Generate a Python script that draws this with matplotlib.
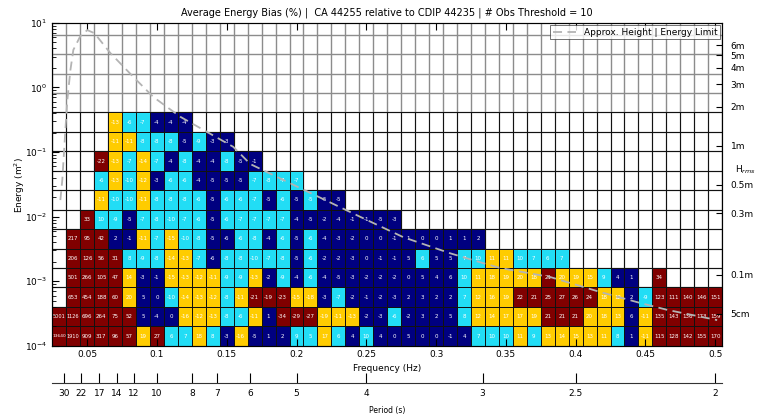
import numpy as np
import matplotlib
matplotlib.use("Agg")
import matplotlib.pyplot as plt
from matplotlib.colors import ListedColormap
from matplotlib.ticker import NullLocator, FixedLocator

plt.rcParams['font.family'] = ['Liberation Sans Narrow', 'DejaVu Sans']

# bins: frequency centres 0.03..0.50 Hz (0.01 wide), energy rows 1e-4 * 2^k
freq_edges = 0.025 + 0.01 * np.arange(49)
energy_edges = 1e-4 * 2.0 ** np.arange(13)

# each row (bottom -> top): first column, bias values (%), colour class
# class: N = |bias| small, C = moderate, Y = large, R = very large, . = empty
row_start = [0, 0, 1, 1, 1, 1, 2, 3, 3, 3, 4, 4]
row_vals = [
    [13640, 1910, 909, 317, 96, 57, 19, 27, 6, 7, 18, 8, -3, -16, -5, 1, 2, 9, 5, 17, 6, 4, 10, 4,
     0, 5, 0, 0, -1, 4, 7, 10, 10, 11, 9, 13, 14, 15, 13, 11, 8, 1, -11, 115, 128, 142, 155, 170],
    [5001, 1126, 696, 264, 75, 52, 5, -4, 0, -16, -12, -13, -8, -6, -11, 1, -34, -29, -27, -19, -11, -13, -2, -3,
     -6, -2, 3, 2, 5, 8, 12, 14, 17, 17, 19, 21, 21, 21, 20, 18, 13, 6, -11, 135, 143, 136, 173, 159],
    [653, 454, 188, 60, 20, 5, 0, -10, -14, -13, -12, -8, -11, -21, -19, -23, -15, -18, -3, -7, -2, -1, -2,
     -3, 2, 3, 2, 2, 7, 12, 16, 19, 22, 21, 25, 27, 26, 24, 18, 12, 2, -9, 123, 111, 140, 146, 151],
    [501, 266, 105, 47, 14, -3, -1, -15, -13, -12, -11, -9, -9, -13, -2, -9, -4, -6, -4, -5, -3, -2, -2,
     -2, 0, 5, 4, 6, 10, 11, 18, 19, 20, 18, 21, 20, 19, 15, 9, 4, 1, None, 34],
    [206, 126, 56, 31, 8, -9, -8, -14, -13, -7, -6, -8, -8, -10, -7, -8, -5, -6, -2, -2, -3, 0, -1, -1,
     5, 6, 5, 5, 7, 10, 11, 11, 10, 7, 6, 7],
    [217, 95, 42, 2, -1, -11, -7, -15, -10, -8, -5, -6, -6, -8, -4, -6, -5, -6, -4, -3, -2, 0, 0, -1,
     1, 0, 0, 1, 1, 2],
    [33, 10, -9, -5, -7, -8, -10, -7, -6, -5, -6, -7, -7, -7, -7, -4, -5, -2, -4, -1, -1, -5, -3],
    [-11, -10, -10, -11, -8, -8, -8, -6, -5, -6, -6, -7, -5, -6, -5, -5, -5, -5],
    [-6, -13, -10, -12, -3, -6, -6, -4, -5, -5, -5, -7, -8, -7, -7],
    [-22, -13, -7, -14, -7, -4, -8, -4, -4, -8, -5, -1],
    [-11, -11, -8, -8, -8, -5, -9, -3, -3],
    [-13, -6, -7, -4, -4, -4],
]
row_cls = [
    "RRRRRRYRCCYCNYNNNCCYCNCNNNNNNNCCCYCYYYYYCNYRRRRR",
    "RRRRRRNNNYYYCCYNRRRYYYNNCNNNNCYYYYYRRRYYYNYRRRRR",
    "RRRRYNNCYYYCYRRRYYNCNNNNNNNNCYYYRRRRRRYYNCRRRRR",
    "RRRRYNNYYYYCCYNCNCNNNNNNNNNNCYYYYYRYYYCNN.R",
    "RRRRCCCYYCNCCCCCNCNNNNNNNCNNCCYYCCCC",
    "RRRNNYCYCCNNCCNCNCNNNNNNNNNNNN",
    "RCCNCCCCCNCCCCCNNNNNNNN",
    "YCCYCCCCNCCCNCNCNN",
    "CYCYNCCNNNNCCCC",
    "RYCYCNCNNCNN",
    "YYCCCNCNN",
    "YCCNNN",
]

# approx. height / energy limit curve
limit_freq = [0.0308, 0.0322, 0.0344, 0.0358, 0.038, 0.0401, 0.0451, 0.0501, 0.0552, 0.0666, 0.0831,
              0.0974, 0.1168, 0.1547, 0.1669, 0.2006, 0.2457, 0.2765, 0.3102, 0.3338, 0.346, 0.3818,
              0.4176, 0.4463, 0.4656, 0.5014]
limit_energy = [0.018, 0.037, 0.22, 0.64, 1.85, 3.8, 6.2, 7.7, 6.9, 3.4, 1.45, 0.71, 0.35, 0.12, 0.065,
                0.029, 0.0099, 0.0048, 0.0027, 0.0019, 0.0016, 0.00116, 0.00068, 0.00046, 0.00036, 0.00025]

hrms_labels = ['6m', '5m', '4m', '3m', '2m', '1m', '0.5m', '0.3m', '0.1m', '5cm']
hrms_m = [6, 5, 4, 3, 2, 1, 0.5, 0.3, 0.1, 0.05]

period_ticks = [30, 22, 17, 14, 12, 10, 8, 7, 6, 5, 4, 3, 2.5, 2]

cls_code = {'N': 1, 'C': 2, 'Y': 3, 'R': 4}
cmap = ListedColormap(['#000080', '#22DDF5', '#FFCC00', '#800000'])

Z = np.full((12, 48), np.nan)
for r in range(12):
    for i, c in enumerate(row_cls[r]):
        if c != '.':
            Z[r, row_start[r] + i] = cls_code[c]

fig = plt.figure(figsize=(7.63, 4.19), dpi=100)
ax = fig.add_axes([0.0685, 0.1747, 0.878, 0.771])

# background grid of bins
for x in freq_edges:
    ax.axvline(x, color='#8c8c8c', lw=1.0, zorder=0)
for y in 1e-4 * 2.0 ** np.arange(1, 17):
    ax.axhline(y, color='#8c8c8c', lw=1.0, zorder=0)

ax.pcolormesh(freq_edges, energy_edges, np.ma.masked_invalid(Z), cmap=cmap, vmin=0.5, vmax=4.5,
              edgecolors='#111111', linewidth=0.6, zorder=1)

fc = 0.5 * (freq_edges[:-1] + freq_edges[1:])
ec = np.sqrt(energy_edges[:-1] * energy_edges[1:])
for r in range(12):
    for i, v in enumerate(row_vals[r]):
        if v is None:
            continue
        s = str(v)
        fs = 3.2 if len(s) >= 5 else (3.6 if len(s) == 4 else 4.0)
        ax.text(fc[row_start[r] + i], ec[r], s, ha='center', va='center', color='white',
                fontsize=fs, zorder=3)

ax.plot(limit_freq, limit_energy, color='#b4b4b4', lw=1.3, ls=(0, (5, 3)), zorder=4,
        label='Approx. Height | Energy Limit')

ax.set_yscale('log')
ax.set_xlim(0.025, 0.505)
ax.set_ylim(1e-4, 10)
ax.set_xticks([0.05, 0.1, 0.15, 0.2, 0.25, 0.3, 0.35, 0.4, 0.45, 0.5])
ax.set_xticklabels(['0.05', '0.1', '0.15', '0.2', '0.25', '0.3', '0.35', '0.4', '0.45', '0.5'])
ax.tick_params(which='both', direction='in', top=True, right=True, labelsize=6.5)
ax.tick_params(which='major', length=5)
ax.tick_params(which='minor', length=3)
ax.tick_params(axis='x', pad=3)
for sp in ax.spines.values():
    sp.set_color('#333333')
    sp.set_linewidth(0.8)

leg = ax.legend(loc='upper right', fontsize=6.5, frameon=True, fancybox=False, edgecolor='#333333',
                borderaxespad=0.25, handlelength=2.6, borderpad=0.3)
leg.get_frame().set_linewidth(0.6)

ax.set_title('Average Energy Bias (%) |  CA 44255 relative to CDIP 44235 | # Obs Threshold = 10',
             fontsize=7, pad=5)

# H_rms axis on the right
ax2 = ax.twinx()
ax2.set_yscale('log')
ax2.set_ylim(1e-4, 10)
ax2.yaxis.set_major_locator(FixedLocator([h ** 2 / 8 for h in hrms_m]))
ax2.yaxis.set_minor_locator(NullLocator())
ax2.set_yticklabels(hrms_labels)
ax2.tick_params(direction='in', length=4, labelsize=6.5, pad=6)
fig.text(735 / 763, 1 - 170 / 419, 'H$_{rms}$', fontsize=6.5, ha='left', va='center')

fig.text(20 / 763, 1 - 185 / 419, 'Energy (m$^2$)', rotation=90, fontsize=6.5, ha='center', va='center')
fig.text(387 / 763, 1 - 368 / 419, 'Frequency (Hz)', fontsize=6.5, ha='center', va='center')

# period axis
pax = fig.add_axes([0.0685, 1 - 383 / 419, 0.878, 0.001])
pax.set_xlim(0.025, 0.505)
pax.set_xticks([1.0 / t for t in period_ticks])
pax.set_xticklabels([str(t) for t in period_ticks])
pax.set_yticks([])
for k in ['top', 'left', 'right']:
    pax.spines[k].set_visible(False)
pax.spines['bottom'].set_color('#333333')
pax.tick_params(axis='x', direction='in', length=7, labelsize=6.5, pad=4)
fig.text(387 / 763, 1 - 410 / 419, 'Period (s)', fontsize=5.5, ha='center', va='center')

fig.savefig('out.png', dpi=100)
